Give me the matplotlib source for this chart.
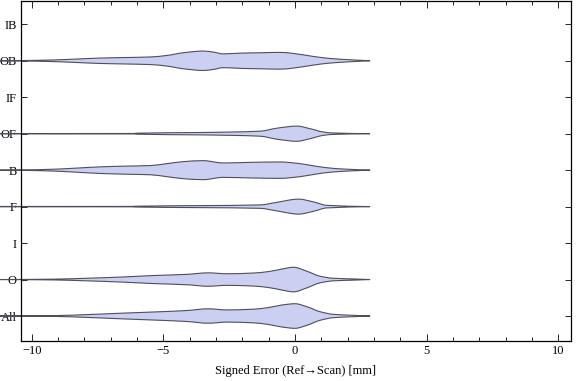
import matplotlib
matplotlib.use("Agg")
import matplotlib.pyplot as plt
from matplotlib.path import Path
from matplotlib.patches import PathPatch
import numpy as np

categories = ["All", "O", "I", "F", "B", "OF", "IF", "OB", "IB"]

# violin profiles: error values [mm] and relative density (half-width)
ob_x = [-11.2, -10.4, -9.2, -8.4, -7.4, -6.5, -5.5, -4.87, -4.25, -3.49, -3.11, -2.73, -2.09, -1.33, -0.57, -0.06, 0.70, 1.33, 2.09, 2.84]
ob_d = [0.0, 0.2, 0.8, 1.6, 2.7, 3.2, 3.8, 5.3, 8.0, 9.7, 8.7, 6.9, 7.6, 8.0, 8.4, 7.3, 4.3, 2.3, 1.0, 0.0]

b_x = [-11.2, -10.4, -9.2, -8.4, -7.4, -6.5, -5.5, -4.87, -4.25, -3.49, -2.73, -1.7, -0.57, 0.19, 0.82, 1.45, 2.09, 2.84]
b_d = [0.0, 0.2, 0.9, 1.9, 3.3, 4.0, 4.6, 6.5, 8.5, 9.5, 7.2, 7.8, 8.2, 6.5, 3.8, 1.8, 0.8, 0.0]

of_x = [-11.2, -6.15, -6.0, -3.6, -1.33, -0.69, 0.07, 0.57, 1.07, 1.45, 2.84]
of_d = [0.15, 0.2, 0.5, 1.2, 2.5, 5.5, 7.6, 5.0, 1.7, 0.7, 0.0]

f_x = [-11.2, -6.2, -6.05, -3.6, -1.33, -0.69, 0.13, 0.70, 1.20, 2.84]
f_d = [0.15, 0.2, 0.4, 1.0, 1.7, 4.3, 7.5, 4.7, 1.3, 0.0]

o_x = [-11.2, -10.4, -9.15, -7.9, -6.6, -5.4, -4.1, -3.3, -2.6, -1.6, -1.0, -0.5, -0.06, 0.45, 0.95, 1.45, 2.2, 2.84]
o_d = [0.0, 0.1, 0.4, 1.3, 2.5, 4.0, 5.2, 6.7, 5.8, 6.5, 8.0, 10.5, 12.3, 8.3, 3.3, 1.3, 0.6, 0.0]

all_x = [-11.2, -10.4, -9.15, -7.9, -6.6, -5.4, -4.1, -3.3, -2.6, -1.6, -1.0, -0.5, 0.0, 0.45, 0.95, 1.45, 2.2, 2.84]
all_d = [0.0, 0.1, 0.4, 1.4, 2.8, 4.0, 5.5, 7.2, 6.1, 6.8, 8.5, 11.0, 12.3, 9.3, 4.3, 1.7, 0.7, 0.0]

violins = {
    "All": (all_x, all_d),
    "O": (o_x, o_d),
    "F": (f_x, f_d),
    "B": (b_x, b_d),
    "OF": (of_x, of_d),
    "OB": (ob_x, ob_d),
}

x_ticks = [-10, -5, 0, 5, 10]
x_tick_labels = ["\u221210", "\u22125", "0", "5", "10"]
x_label = "Signed Error (Ref\u2192Scan) [mm]"

serif = ["Liberation Serif", "DejaVu Serif"]
plt.rcParams["font.family"] = serif

WIDTH_SCALE = 1.0 / 36.46  # density units -> category units


def pchip_slopes(x, y):
    h = np.diff(x)
    d = np.diff(y) / h
    n = len(x)
    m = np.zeros(n)
    m[0] = d[0]
    m[-1] = d[-1]
    for k in range(1, n - 1):
        if d[k - 1] * d[k] <= 0:
            m[k] = 0.0
        else:
            w1 = 2 * h[k] + h[k - 1]
            w2 = h[k] + 2 * h[k - 1]
            m[k] = (w1 + w2) / (w1 / d[k - 1] + w2 / d[k])
    return m


def curve_segments(x, y, m):
    verts = []
    for k in range(len(x) - 1):
        h = x[k + 1] - x[k]
        verts.append((x[k] + h / 3, y[k] + m[k] * h / 3))
        verts.append((x[k + 1] - h / 3, y[k + 1] - m[k + 1] * h / 3))
        verts.append((x[k + 1], y[k + 1]))
    return verts


fig = plt.figure(figsize=(5.76, 3.81), dpi=100)
ax = fig.add_axes([20.7 / 576, 1 - 340.7 / 381, (570.7 - 20.7) / 576, (340.7 - 1.0) / 381])

fill_col = "#cbd0f3"
edge_col = "#4e4e5c"
for name, (xs, ds) in violins.items():
    yc = categories.index(name)
    xs = np.asarray(xs, float)
    ws = np.asarray(ds, float) * WIDTH_SCALE
    m = pchip_slopes(xs, ws)
    up = curve_segments(xs, yc + ws, m)
    xr = xs[::-1]
    wr = ws[::-1]
    mr = m[::-1]
    lo = curve_segments(xr, yc - wr, -mr)
    verts = [(xs[0], yc + ws[0])] + up + [(xr[0], yc - wr[0])] + lo + [(xs[0], yc + ws[0])]
    codes = [Path.MOVETO] + [Path.CURVE4] * len(up) + [Path.LINETO] + [Path.CURVE4] * len(lo) + [Path.CLOSEPOLY]
    patch = PathPatch(Path(verts, codes), facecolor=fill_col, edgecolor=edge_col, lw=0.8,
                      clip_on=False, zorder=2, joinstyle="round")
    ax.add_patch(patch)

ax.set_xlim(-10.42, 10.47)
ax.set_ylim(-0.677, 8.639)
ax.set_xticks(x_ticks)
ax.set_xticklabels(x_tick_labels)
ax.set_xticks(np.arange(-10, 11, 1), minor=True)
ax.set_yticks(range(len(categories)))
ax.set_yticklabels(categories)
ax.tick_params(axis="both", which="both", direction="in", top=True, right=True, labelsize=9, color="black")
ax.tick_params(axis="x", which="major", length=5, width=0.6, pad=3)
ax.tick_params(axis="x", which="minor", length=3, width=0.6)
ax.tick_params(axis="y", which="major", length=4, width=0.6, pad=3)
for s in ax.spines.values():
    s.set_linewidth(0.9)
ax.set_xlabel(x_label, fontsize=9, labelpad=6)

fig.savefig("out.png", dpi=100)
